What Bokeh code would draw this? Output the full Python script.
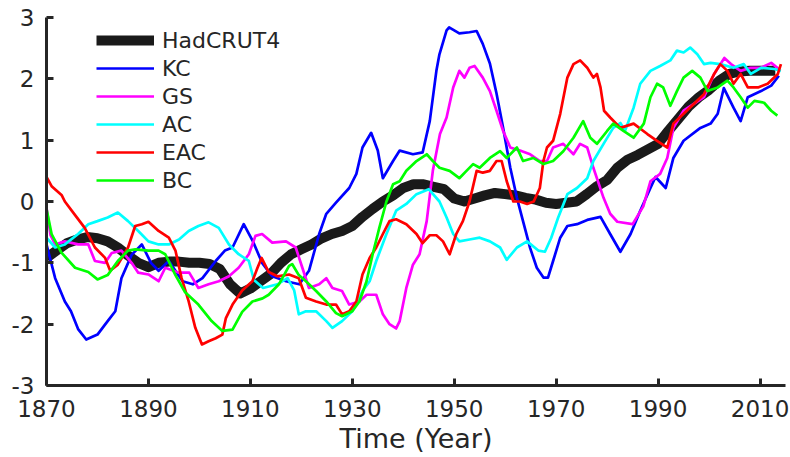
from bokeh.plotting import figure
from bokeh.models import Range1d, FixedTicker, Legend, LegendItem
from bokeh.embed import file_html
from bokeh.resources import INLINE

# ---------------- data ----------------
had_years = [1870, 1872, 1874, 1876, 1878, 1880, 1882, 1884, 1886, 1888, 1890, 1892, 1894, 1896, 1898,
             1900, 1902, 1904, 1906, 1908, 1910, 1912, 1914, 1916, 1918, 1920, 1922, 1924, 1926, 1928,
             1930, 1932, 1934, 1936, 1938, 1940, 1942, 1944, 1946, 1948, 1950, 1952, 1954, 1956, 1958,
             1960, 1962, 1964, 1966, 1968, 1970, 1972, 1974, 1976, 1978, 1980, 1982, 1984, 1986, 1988,
             1990, 1992, 1994, 1996, 1998, 2000, 2002, 2004, 2006, 2008, 2010, 2012, 2013]
had_vals = [-0.92, -0.8, -0.68, -0.62, -0.58, -0.6, -0.65, -0.75, -0.88, -1.0, -1.07, -1.0, -0.98, -0.98, -1.0,
            -1.0, -1.02, -1.1, -1.35, -1.5, -1.42, -1.3, -1.18, -1.0, -0.86, -0.78, -0.7, -0.6, -0.53, -0.48,
            -0.4, -0.25, -0.12, 0.0, 0.1, 0.22, 0.28, 0.28, 0.24, 0.2, 0.05, 0.0, 0.05, 0.1, 0.14,
            0.12, 0.1, 0.06, 0.03, -0.02, -0.04, -0.02, 0.0, 0.12, 0.25, 0.35, 0.55, 0.68, 0.76, 0.85,
            0.94, 1.15, 1.35, 1.55, 1.7, 1.82, 1.97, 2.08, 2.12, 2.13, 2.13, 2.13, 2.13]

kc_years = [1870, 1871.7, 1873.6, 1874.8, 1876.2, 1877.8, 1880, 1882, 1883.5, 1884.7, 1886.7, 1888.7, 1890.5,
            1892, 1894, 1896.7, 1898.7, 1900.6, 1903.2, 1905, 1906.5, 1908.7, 1910.5, 1912.3, 1914.3, 1917,
            1919.6, 1921.5, 1923.5, 1924.9, 1926.8, 1929.4, 1930.8, 1932, 1933.7, 1935, 1936, 1938, 1939.3,
            1941.9, 1943.8, 1945.2, 1946.5, 1947.1, 1948.5, 1949, 1951, 1953, 1954.4, 1955.6, 1957, 1958.3,
            1959.6, 1961, 1962.3, 1963.5, 1964.9, 1966.2, 1967.5, 1968.4, 1969.4, 1970.8, 1972.2, 1974.1,
            1976.1, 1978.7, 1980.6, 1982.6, 1984.6, 1986.5, 1988.5, 1989.5, 1991.5, 1993, 1995, 1998.3,
            2000.3, 2001.7, 2002.9, 2004.8, 2006.2, 2007.6, 2010.2, 2012.2, 2013.7]
kc_vals = [-0.7, -1.25, -1.63, -1.79, -2.08, -2.25, -2.17, -1.95, -1.79, -1.25, -0.87, -0.7, -1.0,
           -1.13, -0.97, -1.3, -1.35, -1.25, -0.97, -0.8, -0.75, -0.37, -0.65, -1.0, -1.22, -1.3,
           -1.35, -1.13, -0.53, -0.2, -0.02, 0.22, 0.45, 0.88, 1.12, 0.83, 0.38, 0.66, 0.83,
           0.77, 0.8, 1.31, 2.13, 2.4, 2.79, 2.84, 2.74, 2.76, 2.78, 2.57, 2.25, 1.76,
           1.2, 0.55, 0.06, -0.32, -0.76, -1.08, -1.24, -1.24, -0.97, -0.59, -0.4, -0.37,
           -0.3, -0.25, -0.53, -0.82, -0.53, -0.15, 0.22, 0.4, 0.22, 0.71, 0.99, 1.2,
           1.27, 1.43, 1.85, 1.53, 1.31, 1.7, 1.8, 1.89, 2.05]

gs_years = [1870, 1870.8, 1871.7, 1873.6, 1876.2, 1878.2, 1879.5, 1881.5, 1882.8, 1884.7, 1886.7, 1888, 1890,
            1892, 1893.3, 1896, 1898, 1899.8, 1901.8, 1903.8, 1905.8, 1907.7, 1909.7, 1911, 1912.3, 1914.3,
            1917, 1918.9, 1920.2, 1921.5, 1923.5, 1924.9, 1926.1, 1928, 1929.4, 1931.4, 1932.8, 1934.7, 1936,
            1937.3, 1938.6, 1939.3, 1940.6, 1941.9, 1943.2, 1944.6, 1945.8, 1947.2, 1948.5, 1949.8, 1951, 1952,
            1953, 1954, 1955.6, 1957, 1958.3, 1959.6, 1961, 1962.9, 1964.9, 1966.8, 1968.2, 1969.4, 1971.4,
            1973.4, 1974.7, 1976.1, 1977.3, 1979.3, 1980.6, 1982, 1985, 1987.1, 1988.5, 1990.4, 1991.8, 1993,
            1995, 1997, 1999, 2001, 2003, 2004.3, 2006.2, 2008.2, 2010.2, 2012.2, 2013.7]
gs_vals = [-0.1, -0.55, -0.7, -0.65, -0.7, -0.7, -0.97, -1.0, -0.84, -0.8, -1.0, -1.16, -1.19,
           -1.3, -1.08, -1.16, -1.16, -1.41, -1.35, -1.3, -1.22, -1.08, -0.86, -0.56, -0.53, -0.67,
           -0.65, -0.75, -1.08, -1.41, -1.35, -1.25, -1.41, -1.46, -1.68, -1.63, -1.52, -1.52, -1.84,
           -2.0, -2.07, -1.95, -1.41, -1.03, -0.86, -0.32, 0.5, 1.1, 1.37, 1.86, 2.13, 2.02,
           2.18, 2.21, 2.02, 1.8, 1.48, 1.15, 0.88, 0.83, 0.77, 0.66, 0.66, 0.88, 0.94,
           0.77, 0.94, 0.88, 0.55, 0.06, -0.2, -0.33, -0.37, -0.08, 0.33, 0.45, 0.71, 1.2,
           1.48, 1.59, 1.7, 2.08, 2.34, 2.24, 2.13, 2.18, 2.18, 2.26, 2.16]

ac_years = [1870, 1871.7, 1873.6, 1876.2, 1878.2, 1880, 1882, 1884, 1886, 1888, 1890, 1892, 1894, 1896,
            1897.9, 1899.8, 1901.8, 1903.8, 1905.8, 1907.7, 1909.7, 1910.7, 1912.5, 1915.3, 1917.3, 1918.6,
            1919.5, 1920.9, 1922.9, 1924.9, 1926.1, 1928, 1930, 1932, 1933.4, 1934.7, 1936.7, 1938.6, 1940.6,
            1942.6, 1945, 1947.1, 1948.5, 1949.8, 1951, 1953, 1955, 1957, 1959, 1960.3, 1962.3, 1964.3,
            1966.5, 1967.8, 1969, 1970.4, 1972.2, 1974.1, 1976.1, 1977.3, 1979.3, 1981.2, 1982.6, 1983.5,
            1985.2, 1986.5, 1988.5, 1990.4, 1992.4, 1993.7, 1995, 1996.3, 1997.7, 1999, 2000.3, 2002.2,
            2004.8, 2006.8, 2008.2, 2010.2, 2012.8, 2014.1]
ac_vals = [-0.59, -0.75, -0.7, -0.53, -0.37, -0.32, -0.26, -0.18, -0.32, -0.48, -0.65, -0.7, -0.7, -0.62,
           -0.48, -0.4, -0.34, -0.43, -0.7, -0.86, -0.97, -1.28, -1.41, -1.35, -1.25, -1.45,
           -1.84, -1.79, -1.79, -1.95, -2.06, -1.95, -1.79, -1.46, -1.3, -0.97, -0.53, -0.15, -0.04,
           0.12, 0.2, 0.0, -0.26, -0.53, -0.65, -0.62, -0.59, -0.65, -0.75, -0.95, -0.75, -0.65,
           -0.8, -0.82, -0.6, -0.26, 0.12, 0.22, 0.38, 0.66, 0.94, 1.2, 1.28, 1.15,
           1.53, 1.92, 2.13, 2.21, 2.3, 2.46, 2.43, 2.51, 2.4, 2.24, 2.26, 2.24,
           2.18, 2.24, 2.08, 2.18, 2.16, 2.13]

eac_years = [1870, 1871, 1873, 1873.6, 1875.5, 1877.5, 1879.5, 1881.5, 1882.5, 1884, 1886, 1887.4, 1888.7,
             1890, 1892, 1894, 1895.3, 1896.5, 1897.9, 1899.2, 1900.5, 1901.8, 1903.2, 1904.5, 1905.2, 1906.5,
             1908.4, 1910.4, 1911.4, 1912.2, 1913.6, 1915.3, 1917.6, 1919.5, 1920.9, 1922.9, 1924.9, 1926.8,
             1928, 1929.4, 1930.8, 1932, 1933.4, 1934.7, 1936, 1937.3, 1938.6, 1940.6, 1942.6, 1943.8, 1945.2,
             1946.5, 1947.8, 1949.1, 1950.4, 1951.7, 1953, 1954.4, 1955.6, 1957, 1958.3, 1959.3, 1960.3,
             1961.6, 1962.9, 1964.3, 1965.6, 1966.8, 1967.5, 1968.2, 1969.4, 1970.8, 1972.2, 1973.4, 1974.7,
             1976.1, 1977.3, 1978, 1978.7, 1979.4, 1980.6, 1982.6, 1985.2, 1987.9, 1989.8, 1991.8, 1993, 1995,
             1997, 1999, 2001, 2002.2, 2003.6, 2004.8, 2006.2, 2007.6, 2009.6, 2011.5, 2013.5, 2014.1]
eac_vals = [0.4, 0.25, 0.1, 0.0, -0.21, -0.43, -0.75, -0.92, -1.13, -1.03, -0.75, -0.4, -0.37,
            -0.33, -0.48, -0.59, -0.8, -1.25, -1.63, -2.06, -2.33, -2.28, -2.23, -2.17, -1.9, -1.68,
            -1.45, -1.3, -1.08, -0.92, -1.15, -1.22, -1.19, -1.25, -1.57, -1.63, -1.68, -1.68,
            -1.84, -1.79, -1.63, -1.19, -0.92, -0.75, -0.53, -0.32, -0.29, -0.37, -0.53, -0.68, -0.55,
            -0.55, -0.65, -0.86, -0.53, -0.32, 0.0, 0.5, 0.47, 0.5, 0.66, 0.66, 0.33,
            0.0, 0.0, -0.04, 0.0, 0.22, 0.66, 0.88, 0.99, 1.43, 2.02, 2.24, 2.3,
            2.18, 2.02, 2.08, 1.86, 1.48, 1.37, 1.2, 1.27, 1.1, 0.99, 0.88, 1.27, 1.43,
            1.59, 1.75, 2.08, 2.24, 2.13, 1.92, 2.08, 1.86, 1.86, 1.92, 2.08, 2.24]

bc_years = [1870, 1871, 1872.9, 1875.6, 1878.2, 1880, 1882, 1884, 1886, 1887.4, 1890, 1892, 1893.3, 1895.3,
            1897.2, 1899.8, 1902.4, 1904.5, 1906.5, 1908.4, 1910.4, 1912.4, 1913.6, 1915.6, 1917.6, 1918.2,
            1919.5, 1920.9, 1922.9, 1924.9, 1926.8, 1928, 1930, 1931.4, 1932.8, 1934, 1935.3, 1936.7, 1938,
            1939.3, 1940.6, 1942.6, 1944.6, 1945.8, 1947.1, 1949.1, 1951, 1952.4, 1953.7, 1955, 1957, 1959,
            1960.3, 1962.3, 1963.5, 1965.5, 1967.5, 1969.4, 1971.4, 1973.4, 1975.3, 1976.7, 1978, 1980,
            1981.2, 1983.2, 1985.2, 1987.2, 1988.5, 1989.8, 1991, 1992.4, 1993.7, 1995, 1996.7, 1998.3,
            1999.7, 2001.7, 2003.6, 2004.8, 2006.2, 2007.6, 2008.9, 2010.8, 2012.2, 2013.4]
bc_vals = [-0.12, -0.53, -0.83, -1.08, -1.15, -1.27, -1.2, -0.97, -0.8, -0.78, -0.8, -0.8, -0.86, -1.2,
           -1.48, -1.68, -1.95, -2.11, -2.09, -1.8, -1.63, -1.58, -1.52, -1.35, -1.05, -1.02,
           -1.2, -1.3, -1.46, -1.63, -1.82, -1.87, -1.79, -1.63, -1.3, -0.86, -0.43, 0.0, 0.28,
           0.33, 0.5, 0.66, 0.77, 0.66, 0.55, 0.5, 0.38, 0.5, 0.61, 0.55, 0.71, 0.82,
           0.71, 0.88, 0.66, 0.71, 0.61, 0.66, 0.82, 1.04, 1.31, 1.04, 0.94, 1.15,
           1.27, 1.15, 1.04, 1.27, 1.7, 1.92, 1.86, 1.56, 1.8, 2.02, 2.13, 2.02,
           1.8, 1.86, 1.97, 1.86, 1.7, 1.53, 1.64, 1.61, 1.48, 1.4]

x_ticks = [1870, 1890, 1910, 1930, 1950, 1970, 1990, 2010]
y_ticks = [-3, -2, -1, 0, 1, 2, 3]
y_tick_labels = ["-3", "-2", "-1", "0", "1", "2", "3"]
x_label = "Time (Year)"

# ---------------- figure ----------------
FONT = "DejaVu Sans"
AX = "#262626"

p = figure(width=790, height=457, output_backend="svg", toolbar_location=None,
           x_range=Range1d(1870, 2015), y_range=Range1d(-3, 3),
           min_border_left=46, min_border_right=5, min_border_top=17, min_border_bottom=72)
p.outline_line_color = None
p.grid.visible = False
p.background_fill_color = "white"

series = [
    ("HadCRUT4", had_years, had_vals, "#1a1a1a", 10),
    ("KC", kc_years, kc_vals, "#0000ff", 2.7),
    ("GS", gs_years, gs_vals, "#ff00ff", 2.7),
    ("AC", ac_years, ac_vals, "#00ffff", 2.7),
    ("EAC", eac_years, eac_vals, "#ff0000", 2.7),
    ("BC", bc_years, bc_vals, "#00ff00", 2.7),
]
items = []
for name, xs, ys, col, lw in series:
    r = p.line(xs, ys, line_color=col, line_width=lw, line_join="round")
    items.append(LegendItem(label=name, renderers=[r]))

for ax in (p.xaxis[0], p.yaxis[0]):
    ax.axis_line_color = AX
    ax.axis_line_width = 3
    ax.major_tick_line_color = AX
    ax.major_tick_line_width = 3
    ax.major_tick_in = 7
    ax.major_tick_out = 0
    ax.minor_tick_line_color = None
    ax.major_label_text_font = FONT
    ax.major_label_text_font_size = "23px"
    ax.major_label_text_color = AX

p.xaxis.major_label_standoff = 14
p.yaxis.major_label_standoff = 12
p.xaxis.ticker = FixedTicker(ticks=x_ticks)
p.yaxis.ticker = FixedTicker(ticks=y_ticks)
p.yaxis.major_label_overrides = {t: s for t, s in zip(y_ticks, y_tick_labels)}
p.xaxis.axis_label = x_label
p.xaxis.axis_label_text_font = FONT
p.xaxis.axis_label_text_font_size = "27px"
p.xaxis.axis_label_text_font_style = "normal"
p.xaxis.axis_label_text_color = AX
p.xaxis.axis_label_standoff = 3

legend = Legend(items=items, location=(50, 191),
                glyph_width=58, glyph_height=28, label_height=28, spacing=0,
                padding=0, margin=0, label_standoff=8,
                label_text_font=FONT, label_text_font_size="22px", label_text_color=AX,
                border_line_alpha=0, background_fill_alpha=0)
p.add_layout(legend)

open("out.html", "w").write(file_html(p, INLINE))
